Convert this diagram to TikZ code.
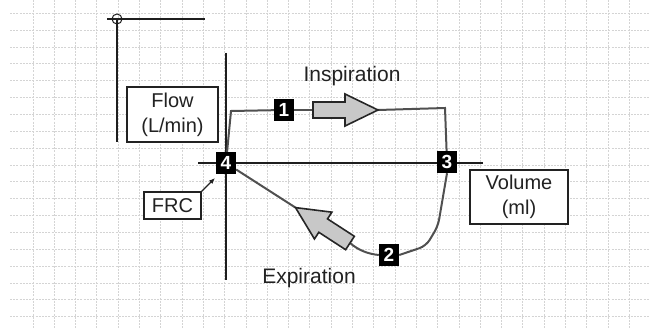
\documentclass[tikz,border=0pt]{standalone}
\usepackage{fontspec}
\setmainfont{Liberation Sans}
\usetikzlibrary{arrows.meta}
\definecolor{GLine}{HTML}{505050}
\definecolor{GAxis}{HTML}{1E1E1E}
\definecolor{GGrid}{HTML}{D4D4D4}
\definecolor{GFill}{HTML}{C8C8C8}
\definecolor{GText}{HTML}{222222}

\begin{document}
\begin{tikzpicture}[x=1pt,y=-1pt,
  lbl/.style={draw=GText,line width=1.3pt,fill=white,inner sep=0pt,align=center,
    font=\fontsize{20}{25}\selectfont,text=GText},
  txt/.style={font=\fontsize{21}{25}\selectfont,text=GText,inner sep=0pt},
  num/.style={fill=black,text=white,font=\fontsize{19}{19}\selectfont\bfseries,
    minimum width=20pt,minimum height=22pt,inner sep=0pt},
  loop/.style={draw=GLine,line width=2pt},
  blk/.style={draw=black!85,fill=GFill,line width=1.6pt,line join=miter},
  ax/.style={draw=GAxis,line width=2pt},
  grd/.style={draw=GGrid,line width=0.7pt,dash pattern=on 2pt off 1.2pt}
]
  \useasboundingbox (0,0) rectangle (650,329);
  % grid
  \foreach \i in {1,...,29}
    {\draw[grd] ({11.6+21.3*\i},0) -- ({11.6+21.3*\i},329);}
  \foreach \j in {0,...,18}
    {\draw[grd] (10,{13.3+16.85*\j}) -- (650,{13.3+16.85*\j});}

  % small axes, top left
  \draw[GAxis,line width=1.2pt] (107,19) -- (205,19);
  \draw[GAxis,line width=1.2pt] (117,19) -- (117,142);
  \draw[GAxis,line width=1pt] (117,19) circle (5);

  % main axes
  \draw[ax] (226,53) -- (226,280);
  \draw[ax] (198,163) -- (483,163);

  \node[num] (n4) at (226,163) {4};
  \node[num] (n1) at (284,110) {1};
  \node[num] (n3) at (447,162) {3};
  \node[num] (n2) at (389,255) {2};

  \node[lbl,minimum width=91pt,minimum height=55pt] (flow) at (172.5,114.5) {Flow\\(L/min)};
  \node[lbl,minimum width=57pt,minimum height=27pt] (frc) at (172.5,205.5) {FRC};
  \node[lbl,minimum width=98pt,minimum height=54pt] (vol) at (519,197) {Volume\\(ml)};
  \node[txt] (insp) at (352,76) {Inspiration};
  \node[txt] (exp) at (309,278) {Expiration};

  \coordinate (k1) at (231,111);
  \coordinate (a1tail) at (313,110);
  \coordinate (a1tip) at (378,110);
  \coordinate (k2) at (445,108);
  \coordinate (k3) at (438,226);
  \coordinate (k4) at (426,246);
  \coordinate (a2tail) at (350,243);
  \coordinate (a2tip) at (295.5,207.6);

  % loop
  \draw[loop] (n4) -- (k1) -- (n1);
  \draw[loop] (n1) -- (a1tail);
  \draw[loop] (a1tip) -- (k2) -- (n3);
  \draw[loop,rounded corners=7pt] (n3.south) -- (k3) -- (k4) -- (n2.east);
  \draw[loop] (n2.west) .. controls (368,254) and (358,250) .. (a2tail);
  \draw[loop] (a2tip) -- (n4);

  % block arrows
  \draw[blk,shift={(a1tail)}] (0,-8) -- (32,-8) -- (32,-16) -- (65,0)
    -- (32,16) -- (32,8) -- (0,8) -- cycle;
  \draw[blk,shift={(a2tail)},rotate=147] (0,-8) -- (32,-8) -- (32,-16) -- (65,0)
    -- (32,16) -- (32,8) -- (0,8) -- cycle;

  \draw[GText,line width=1.2pt,-{Latex[length=6pt,width=5pt]}] (frc.north east) -- (215,178);
\end{tikzpicture}
\end{document}
